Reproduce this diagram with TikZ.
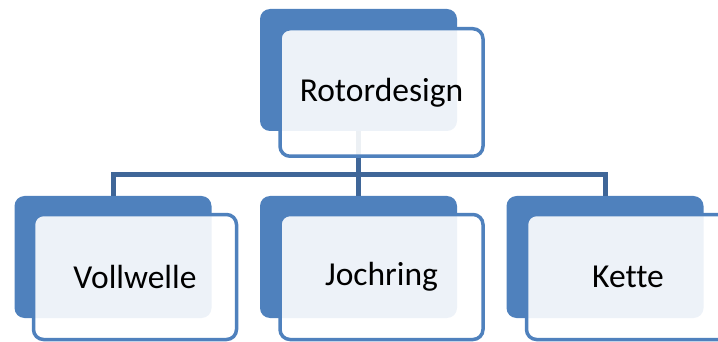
\documentclass[tikz,border=0pt]{standalone}
\usepackage{fontspec}
\setmainfont{Carlito}[Ligatures=NoCommon]
\definecolor{accent}{HTML}{4F81BD}
\definecolor{linkblue}{HTML}{3F6698}
\begin{document}
\begin{tikzpicture}[x=1pt,y=-1pt,
  backbox/.style={rectangle, rounded corners=10pt, fill=accent, draw=none,
    minimum width=197pt, minimum height=122pt, inner sep=0pt, outer sep=0pt},
  frontbox/.style={rectangle, rounded corners=10pt, draw=accent, line width=3.5pt,
    fill=white, fill opacity=0.9, text opacity=1,
    minimum width=203pt, minimum height=125pt, inner sep=0pt, outer sep=0pt,
    font=\fontsize{33.5}{40}\selectfont},
  conn/.style={draw=linkblue, line width=5pt, line join=miter}]
\useasboundingbox (0,0) rectangle (718,342);
% back plates
\node[backbox] (rb) at (358.5,70) {};
\node[backbox] (vb) at (113,257) {};
\node[backbox] (jb) at (358.5,257) {};
\node[backbox] (kb) at (605,257) {};
% connectors
\coordinate (hub) at (358.5,175);
\draw[conn] (rb.south) -- (jb.north);
\draw[conn] (vb.north) |- (hub) -| (kb.north);
% front cards
\node[frontbox, minimum height=127.5pt] (rf) at (381.5,92.5) {Rotordesign};
\node[frontbox] (vf) at (135,277) {Vollwelle};
\node[frontbox] (jf) at (381.5,277) {Jochring};
\node[frontbox] (kf) at (628,277) {Kette};
\end{tikzpicture}
\end{document}
